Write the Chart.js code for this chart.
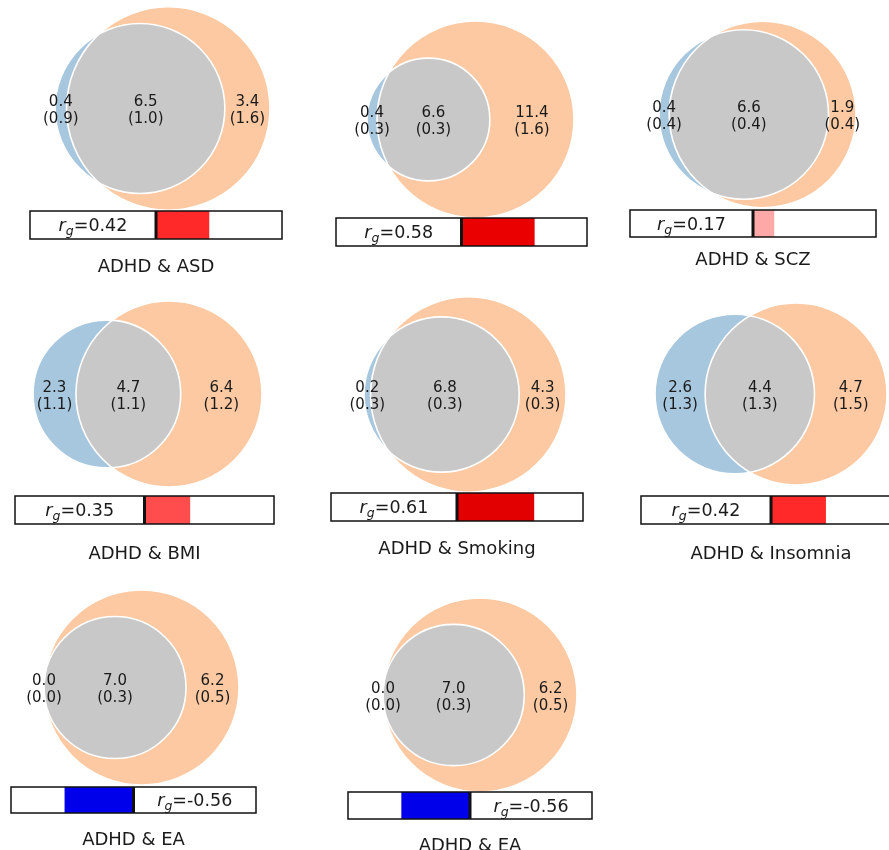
<!DOCTYPE html>
<html>
<head>
<meta charset="utf-8">
<script src="https://cdn.jsdelivr.net/npm/chart.js@4/dist/chart.umd.min.js"></script>
<style>
	html, body { margin: 0; padding: 0; background: #fff; overflow: hidden; }
	body { width: 889px; height: 850px; position: relative; }
	canvas { position: absolute; }
	.title {
		position: absolute;
		font-family: "DejaVu Sans", sans-serif;
		font-size: 18px;
		color: #1a1a1a;
		white-space: nowrap;
		transform: translate(-50%, -50%);
	}
</style>
</head>
<body>
<script>
const panelTitles = ['ADHD & ASD', '', 'ADHD & SCZ', 'ADHD & BMI', 'ADHD & Smoking', 'ADHD & Insomnia', 'ADHD & EA', 'ADHD & EA'];
const adhdOnly = [0.4, 0.4, 0.4, 2.3, 0.2, 2.6, 0.0, 0.0];
const adhdOnlySe = [0.9, 0.3, 0.4, 1.1, 0.3, 1.3, 0.0, 0.0];
const shared = [6.5, 6.6, 6.6, 4.7, 6.8, 4.4, 7.0, 7.0];
const sharedSe = [1.0, 0.3, 0.4, 1.1, 0.3, 1.3, 0.3, 0.3];
const traitOnly = [3.4, 11.4, 1.9, 6.4, 4.3, 4.7, 6.2, 6.2];
const traitOnlySe = [1.6, 1.6, 0.4, 1.2, 0.3, 1.5, 0.5, 0.5];
const rg = [0.42, 0.58, 0.17, 0.35, 0.61, 0.42, -0.56, -0.56];

// page placement: venn [left, top, big circle diameter], box [left, top, width, height], title centre y
const vennPlace = [[55, 7, 203], [367, 21, 197], [659, 21, 187], [33, 301, 186], [364, 297, 195], [655, 303, 182], [44, 590, 195], [383, 598, 194]];
const boxPlace = [[30, 211, 252, 28], [336, 218, 251, 28], [630, 210, 246, 27], [15, 496, 259, 28], [331, 493, 252, 28], [641, 496, 260, 28], [11, 787, 245, 26], [348, 792, 244, 27]];
const titleY = [265, null, 258, 552, 547, 552, 838, 844];

const adhdColor = '#a7c7df',
	  traitColor = '#fcc9a2',
	  sharedColor = '#c8c8c8',
	  textColor = '#1a1a1a';

function lensArea(r1, r2, d) {
	if (d >= r1 + r2) return 0;
	if (d <= Math.abs(r1 - r2)) return Math.PI * Math.min(r1, r2) ** 2;
	const a1 = Math.acos((d * d + r1 * r1 - r2 * r2) / (2 * d * r1));
	const a2 = Math.acos((d * d + r2 * r2 - r1 * r1) / (2 * d * r2));
	const k = Math.sqrt((-d + r1 + r2) * (d + r1 - r2) * (d - r1 + r2) * (d + r1 + r2));
	return r1 * r1 * a1 + r2 * r2 * a2 - k / 2;
}

// area-proportional circles, distance found so the lens matches the shared part
function vennGeometry(onlyA, both, onlyB) {
	const rA = Math.sqrt(onlyA + both), rB = Math.sqrt(onlyB + both);
	const target = Math.PI * both;
	let lo = Math.abs(rA - rB), hi = rA + rB;
	// one set fully inside the other: circles touch on the inside
	if (target >= Math.PI * Math.min(rA, rB) ** 2 - 1e-9) return {rA, rB, d: lo};
	for (let i = 0; i < 80; i++) {
		const mid = (lo + hi) / 2;
		if (lensArea(rA, rB, mid) > target) lo = mid; else hi = mid;
	}
	return {rA, rB, d: (lo + hi) / 2};
}

// matplotlib "seismic" colormap on [-1, 1]
function seismic(v) {
	const t = (v + 1) / 2;
	let r, g, b;
	if (t < 0.25) { r = 0; g = 0; b = 0.3 + 0.7 * t / 0.25; }
	else if (t < 0.5) { const f = (t - 0.25) / 0.25; r = f; g = f; b = 1; }
	else if (t < 0.75) { const f = (t - 0.5) / 0.25; r = 1; g = 1 - f; b = 1 - f; }
	else { const f = (t - 0.75) / 0.25; r = 1 - 0.5 * f; g = 0; b = 0; }
	return `rgb(${Math.round(r * 255)}, ${Math.round(g * 255)}, ${Math.round(b * 255)})`;
}

function radiusPx(chart, size) {
	const x = chart.scales.x;
	return Math.abs(x.getPixelForValue(size) - x.getPixelForValue(0));
}

function addCanvas(left, top, width, height) {
	const canvas = document.createElement('canvas');
	canvas.width = width;
	canvas.height = height;
	canvas.style.left = left + 'px';
	canvas.style.top = top + 'px';
	document.body.appendChild(canvas);
	return canvas;
}

function renderVenn(i) {
	const g = vennGeometry(adhdOnly[i], shared[i], traitOnly[i]);
	const [left, top, diam] = vennPlace[i];
	const xMin = Math.min(-g.rA, g.d - g.rB), xMax = Math.max(g.rA, g.d + g.rB);
	const rMax = Math.max(g.rA, g.rB);
	const width = Math.round(diam * (xMax - xMin) / (2 * rMax));
	const pad = 34;
	const canvas = addCanvas(left - pad, top - 2, width + 2 * pad, diam + 4);

	const labels = [
		{x: (-g.rA + g.d - g.rB) / 2, value: adhdOnly[i], se: adhdOnlySe[i]},
		{x: (Math.max(-g.rA, g.d - g.rB) + Math.min(g.rA, g.d + g.rB)) / 2, value: shared[i], se: sharedSe[i]},
		{x: (g.rA + g.d + g.rB) / 2, value: traitOnly[i], se: traitOnlySe[i]},
	];

	const overlay = {
		id: 'vennOverlay',
		afterDatasetsDraw(chart) {
			const ctx = chart.ctx;
			const a = chart.getDatasetMeta(0).data[0], b = chart.getDatasetMeta(1).data[0];
			const ra = a.options.radius, rb = b.options.radius;
			ctx.save();
			ctx.beginPath();
			ctx.arc(a.x, a.y, ra, 0, 2 * Math.PI);
			ctx.clip();
			ctx.beginPath();
			ctx.arc(b.x, b.y, rb, 0, 2 * Math.PI);
			ctx.fillStyle = sharedColor;
			ctx.fill();
			ctx.restore();

			ctx.save();
			ctx.strokeStyle = '#fff';
			ctx.lineWidth = 1.6;
			ctx.beginPath();
			ctx.arc(a.x, a.y, ra, 0, 2 * Math.PI);
			ctx.stroke();
			ctx.beginPath();
			ctx.arc(b.x, b.y, rb, 0, 2 * Math.PI);
			ctx.stroke();

			ctx.fillStyle = textColor;
			ctx.font = '15px "DejaVu Sans"';
			ctx.textAlign = 'center';
			ctx.textBaseline = 'middle';
			const cy = chart.scales.y.getPixelForValue(0);
			labels.forEach(l => {
				const px = chart.scales.x.getPixelForValue(l.x);
				ctx.fillText(l.value.toFixed(1), px, cy - 6);
				ctx.fillText('(' + l.se.toFixed(1) + ')', px, cy + 11);
			});
			ctx.restore();
		}
	};

	new Chart(canvas, {
		type: 'scatter',
		data: {
			datasets: [
				{data: [{x: 0, y: 0}], size: g.rA, backgroundColor: adhdColor, order: 1},
				{data: [{x: g.d, y: 0}], size: g.rB, backgroundColor: traitColor, order: 2},
			]
		},
		options: {
			animation: false,
			responsive: false,
			events: [],
			layout: {padding: {left: pad, right: pad, top: 2, bottom: 2}},
			elements: {
				point: {
					radius: c => radiusPx(c.chart, c.dataset.size),
					borderWidth: 0,
					pointStyle: 'circle',
				}
			},
			datasets: {scatter: {clip: false}},
			plugins: {legend: {display: false}, tooltip: {enabled: false}},
			scales: {
				x: {type: 'linear', min: xMin, max: xMax, display: false},
				y: {type: 'linear', min: -rMax, max: rMax, display: false},
			}
		},
		plugins: [overlay]
	});
}

function drawRg(ctx, value, cx, cy) {
	const main = '17.5px "DejaVu Sans"', it = 'italic 17.5px "DejaVu Sans"', sub = 'italic 12.5px "DejaVu Sans"';
	const rest = '=' + value.toFixed(2);
	ctx.font = it; const wr = ctx.measureText('r').width;
	ctx.font = sub; const wg = ctx.measureText('g').width;
	ctx.font = main; const wRest = ctx.measureText(rest).width;
	let x = cx - (wr + wg + wRest) / 2;
	const base = cy + 6;
	ctx.textAlign = 'left';
	ctx.textBaseline = 'alphabetic';
	ctx.fillStyle = textColor;
	ctx.font = it; ctx.fillText('r', x, base); x += wr;
	ctx.font = sub; ctx.fillText('g', x, base + 4); x += wg;
	ctx.font = main; ctx.fillText(rest, x, base);
}

function renderBox(i) {
	const [left, top, width, height] = boxPlace[i];
	const canvas = addCanvas(left - 1, top - 1, width + 2, height + 2);

	const frame = {
		id: 'rgFrame',
		afterDatasetsDraw(chart) {
			const {ctx, chartArea: a, scales: {x}} = chart;
			ctx.save();
			ctx.strokeStyle = '#111';
			ctx.lineWidth = 1.5;
			ctx.strokeRect(a.left, a.top, a.right - a.left, a.bottom - a.top);
			const zero = x.getPixelForValue(0);
			ctx.lineWidth = 3;
			ctx.beginPath();
			ctx.moveTo(zero, a.top);
			ctx.lineTo(zero, a.bottom);
			ctx.stroke();
			drawRg(ctx, rg[i], x.getPixelForValue(rg[i] >= 0 ? -0.5 : 0.5), (a.top + a.bottom) / 2);
			ctx.restore();
		}
	};

	new Chart(canvas, {
		type: 'bar',
		data: {
			labels: [''],
			datasets: [{
				data: [[0, rg[i]]],
				backgroundColor: seismic(rg[i]),
				borderWidth: 0,
				barPercentage: 1,
				categoryPercentage: 1,
			}]
		},
		options: {
			indexAxis: 'y',
			animation: false,
			responsive: false,
			events: [],
			layout: {padding: 1},
			plugins: {legend: {display: false}, tooltip: {enabled: false}},
			scales: {
				x: {type: 'linear', min: -1, max: 1, display: false},
				y: {display: false},
			}
		},
		plugins: [frame]
	});

	if (panelTitles[i]) {
		const t = document.createElement('div');
		t.className = 'title';
		t.textContent = panelTitles[i];
		t.style.left = (left + width / 2) + 'px';
		t.style.top = titleY[i] + 'px';
		document.body.appendChild(t);
	}
}

panelTitles.forEach((_, i) => {
	renderVenn(i);
	renderBox(i);
});
</script>
</body>
</html>
